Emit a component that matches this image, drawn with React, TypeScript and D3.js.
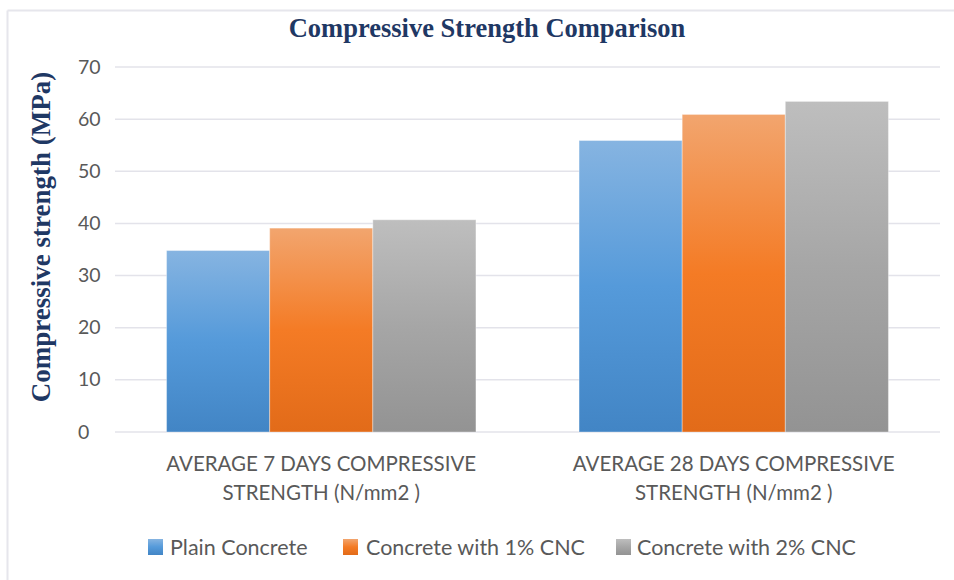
import React from "react";
import * as d3 from "d3";

const categories = [
  ["AVERAGE 7 DAYS COMPRESSIVE", "STRENGTH (N/mm2 )"],
  ["AVERAGE 28 DAYS COMPRESSIVE", "STRENGTH (N/mm2 )"],
];
const seriesNames = ["Plain Concrete", "Concrete with 1% CNC", "Concrete with 2% CNC"];
const plainValues = [34.8, 55.9];
const cnc1Values = [39.1, 60.9];
const cnc2Values = [40.7, 63.4];
const yTicks = [0, 10, 20, 30, 40, 50, 60, 70];

const gradients = [
  { id: "gBlue", top: "#86b4e1", mid: "#559ada", bottom: "#4285c5" },
  { id: "gOrange", top: "#f2a56e", mid: "#f47b25", bottom: "#e26b19" },
  { id: "gGray", top: "#bebebe", mid: "#a6a6a6", bottom: "#939393" },
];

export default function App() {
  const W = 954, H = 580;
  const left = 115, right = 940, top = 67, bottom = 432;
  const values = [plainValues, cnc1Values, cnc2Values];
  const catKeys = categories.map((c) => c.join(" "));
  const x0 = d3.scaleBand().domain(catKeys).range([left, right]).paddingInner(0.25).paddingOuter(0.125);
  const x1 = d3.scaleBand().domain(seriesNames).range([0, x0.bandwidth()]).padding(0);
  const y = d3.scaleLinear().domain([0, 70]).range([bottom, top]);
  const sans = "Lato, 'Open Sans', sans-serif";
  const serif = "'Liberation Serif', 'DejaVu Serif', serif";
  const textColor = "#595959";
  const navy = "#1f3864";

  const legendX = [148, 343, 616];
  const legendTextX = [170, 366, 637];

  return (
    <svg width={W} height={H} style={{ position: "absolute", left: 0, top: 0, background: "#fff" }}>
      <defs>
        {gradients.map((g) => (
          <linearGradient key={g.id} id={g.id} x1="0" y1="0" x2="0" y2="1">
            <stop offset="0%" stopColor={g.top} />
            <stop offset="50%" stopColor={g.mid} />
            <stop offset="100%" stopColor={g.bottom} />
          </linearGradient>
        ))}
      </defs>
      <line x1={7.5} y1={10.5} x2={954} y2={10.5} stroke="#e6e6ec" strokeWidth={2} />
      <line x1={7.5} y1={10.5} x2={7.5} y2={580} stroke="#e6e6ec" strokeWidth={2} />
      <text x={487} y={37} textAnchor="middle" fontFamily={serif} fontWeight="bold" fontSize={26.5} fill={navy}>
        Compressive Strength Comparison
      </text>
      <text
        transform={`translate(50, 237) rotate(-90)`}
        textAnchor="middle"
        fontFamily={serif}
        fontWeight="bold"
        fontSize={27}
        fill={navy}
      >
        Compressive strength (MPa)
      </text>
      {yTicks.map((t) => (
        <g key={t}>
          <line x1={left} x2={right} y1={y(t)} y2={y(t)} stroke="#e3e3ea" strokeWidth={1.5} />
          <text x={78} y={y(t) + 6.5} fontFamily={sans} fontSize={19.5} fill={textColor}>
            {t}
          </text>
        </g>
      ))}
      {catKeys.map((k, ci) => (
        <g key={k}>
          {seriesNames.map((s, si) => {
            const v = values[si][ci];
            return (
              <rect
                key={s}
                x={(x0(k) as number) + (x1(s) as number)}
                y={y(v)}
                width={x1.bandwidth()}
                height={y(0) - y(v)}
                fill={`url(#${gradients[si].id})`}
                stroke="rgba(255,255,255,0.35)"
                strokeWidth={1}
              />
            );
          })}
          {categories[ci].map((line, li) => (
            <text
              key={li}
              x={(x0(k) as number) + x0.bandwidth() / 2}
              y={471 + li * 29}
              textAnchor="middle"
              fontFamily={sans}
              fontSize={20.5}
              fill={textColor}
            >
              {line}
            </text>
          ))}
        </g>
      ))}
      {seriesNames.map((s, si) => (
        <g key={s}>
          <rect x={legendX[si]} y={539} width={15} height={16} fill={`url(#${gradients[si].id})`} />
          <text x={legendTextX[si]} y={555} fontFamily={sans} fontSize={21.5} fill={textColor}>
            {s}
          </text>
        </g>
      ))}
    </svg>
  );
}
